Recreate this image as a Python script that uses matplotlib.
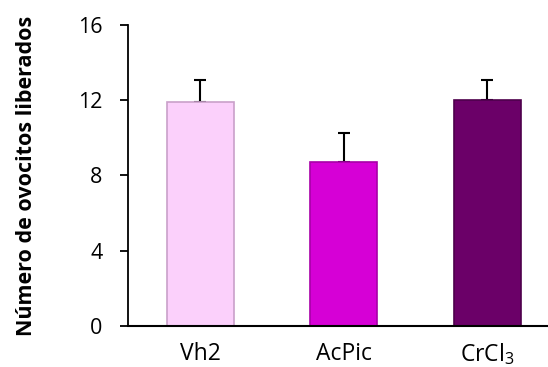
import numpy as np
import matplotlib
matplotlib.use("Agg")
import matplotlib.pyplot as plt

plt.rcParams['font.family'] = ['Open Sans', 'DejaVu Sans']
plt.rcParams['mathtext.default'] = 'regular'

### Data ###
groups = ["Vh2", "AcPic", r"CrCl$_3$"]
means = [11.92, 8.71, 12.01]
errors = [1.18, 1.56, 1.09]
colors = ["#fbd0fb", "#d600d6", "#6b0068"]
edges = ["#c9a0c9", "#a800a8", "#4e004c"]
yticks = [0, 4, 8, 12, 16]

fig = plt.figure(figsize=(5.48, 3.67), dpi=100)
# axes box in pixels: left 127.6, right 548, y=0 at 325.7, y=16 at 25
ax = fig.add_axes([127.6/548, 1 - 325.7/367, (548 - 127.6)/548, 300.7/367])

x = np.arange(len(groups))
ax.bar(x, means, width=0.467, color=colors, edgecolor=edges, linewidth=1.2, zorder=2)
# one-sided (upper) error bars
ax.errorbar(x, means, yerr=[np.zeros(len(errors)), errors], fmt="none",
            ecolor="black", elinewidth=1.5, capsize=4.5, capthick=1.5, zorder=1)

ax.set_ylim(0, 16)
ax.set_xlim(-0.505, 2.425)
ax.set_yticks(yticks)
ax.set_xticks(x)
ax.set_xticklabels(groups)
ax.tick_params(axis="y", direction="out", length=6, width=1.3, labelsize=15.5, pad=12)
ax.tick_params(axis="x", length=0, labelsize=16.5, pad=11.5)
ax.spines["top"].set_visible(False)
ax.spines["right"].set_visible(False)
ax.spines["left"].set_linewidth(1.3)
ax.spines["bottom"].set_linewidth(1.5)

fig.text(27/548, 1 - 176/367, "Número de ovocitos liberados", rotation=90,
         ha="center", va="center", fontsize=15.5, fontweight="bold")

fig.savefig("out.png", dpi=100)
